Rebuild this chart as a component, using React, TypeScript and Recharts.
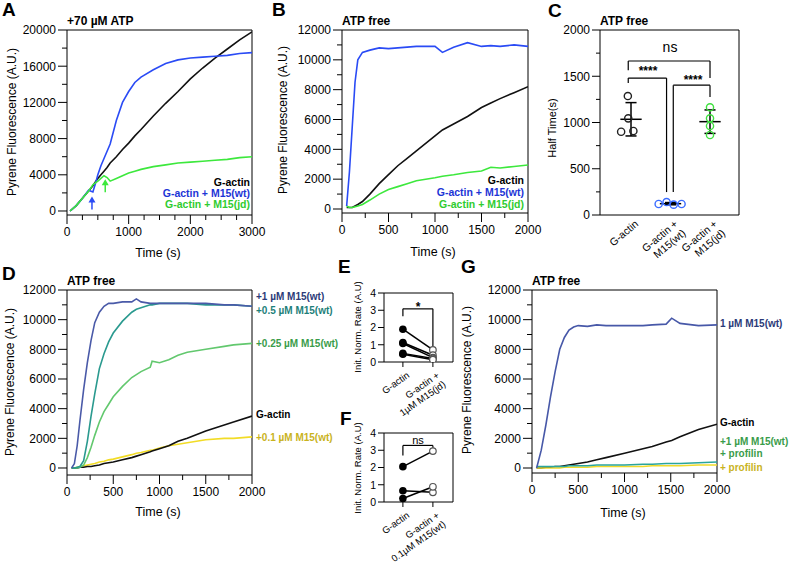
import React from "react";
import {
  LineChart,
  Line,
  XAxis,
  YAxis,
  ReferenceLine,
  ReferenceDot,
  ScatterChart,
  Scatter,
} from "recharts";

const FONT = '"Liberation Sans", Arial, Helvetica, sans-serif';

// A: +70 µM ATP
const aTime = [50, 150, 250, 350, 420, 460, 500, 550, 600, 650, 700, 800, 900, 1000, 1100, 1200, 1400, 1600, 1800, 2000, 2200, 2400, 2600, 2800, 3000];
const aGActin = [0, 600, 1400, 2200, 2800, 3200, 3600, 4000, 4400, 4800, 5300, 6000, 6800, 7500, 8300, 9000, 10500, 11900, 13200, 14600, 15800, 16900, 17900, 18900, 19800];
const aWt = [0, 600, 1400, 2300, 2100, 3000, 4000, 5000, 5800, 6600, 7400, 10000, 12000, 13200, 14200, 14800, 15600, 16300, 16700, 16900, 17000, 17100, 17200, 17400, 17500];
const aJd = [0, 600, 1400, 2200, 2900, 3100, 3300, 3600, 3900, 3700, 3300, 3600, 3900, 4200, 4400, 4600, 4900, 5100, 5300, 5400, 5500, 5600, 5700, 5900, 6000];
const aArrows = [
  { t: 405, v: 1500, color: "#2a4bf5" },
  { t: 620, v: 3400, color: "#3de83d" },
];

// B: ATP free
const bTime = [50, 80, 110, 140, 170, 220, 300, 400, 500, 600, 700, 800, 900, 1000, 1080, 1200, 1350, 1500, 1600, 1700, 1850, 2000];
const bWt = [200, 2500, 5500, 8500, 10000, 10500, 10650, 10800, 10750, 10800, 10850, 10900, 10900, 10900, 10500, 10850, 11150, 10900, 10950, 10900, 11000, 10900];
const bGActin = [100, 100, 100, 200, 300, 500, 1000, 1700, 2300, 2900, 3400, 3900, 4400, 4900, 5300, 5700, 6200, 6800, 7100, 7400, 7800, 8200];
const bJd = [200, 100, 100, 150, 200, 300, 600, 1000, 1300, 1500, 1700, 1900, 2000, 2100, 2200, 2300, 2450, 2550, 2800, 2750, 2850, 2950];

// C: half times
const cCats = ["G-actin", "G-actin +\nM15(wt)", "G-actin +\nM15(jd)"];
const cGActin = [1286, 1045, 900, 908];
const cGActinX = [0.92, 0.93, 0.75, 1.06];
const cWt = [119, 140, 112, 119];
const cWtX = [1.7, 1.9, 2.08, 2.28];
const cJd = [1164, 1045, 962, 865];
const cJdX = [3, 3, 3, 3];
const cBrackets = [
  { x1: 0.93, x2: 3.0, y: 1665, yl: 1566, yr: 1480 },
  { x1: 0.93, x2: 1.9, y: 1480, yl: 1426, yr: 248 },
  { x1: 2.07, x2: 3.0, y: 1404, yl: 248, yr: 1275 },
];

// D: dose series
const dTime = [50, 80, 110, 140, 180, 220, 260, 300, 350, 400, 450, 500, 600, 700, 750, 800, 900, 920, 1000, 1100, 1200, 1300, 1500, 1700, 1800, 2000];
const d1 = [0, 300, 1500, 3200, 5300, 7100, 8600, 9800, 10500, 10900, 11100, 11100, 11200, 11200, 11400, 11200, 11100, 11100, 11100, 11100, 11100, 11100, 11100, 11000, 11000, 10900];
const d05 = [0, 0, 50, 100, 500, 1800, 3500, 5000, 6700, 7700, 8500, 9100, 9900, 10500, 10700, 10800, 11000, 11000, 11100, 11100, 11100, 11100, 11000, 11000, 11000, 10900];
const d025 = [0, 0, 0, 50, 200, 700, 1400, 2200, 3100, 3800, 4300, 4800, 5500, 6100, 6300, 6500, 6800, 7200, 7100, 7300, 7600, 7800, 8000, 8200, 8300, 8400];
const dGActin = [0, 0, 0, 50, 50, 100, 100, 150, 200, 300, 350, 400, 550, 700, 800, 900, 1100, 1150, 1300, 1500, 1800, 2000, 2500, 2900, 3100, 3500];
const d01 = [0, 0, 50, 100, 150, 200, 250, 300, 400, 450, 550, 600, 750, 900, 1000, 1050, 1200, 1200, 1350, 1500, 1600, 1700, 1900, 2000, 2000, 2100];

// E / F: paired initial rates
const eCats = ["G-actin", "G-actin +\n1µM M15(jd)"];
const eGActin = [1.9, 1.13, 1.07, 0.5, 0.45];
const eJd = [0.7, 0.39, 0.25, 0.2, 0.13];
const fCats = ["G-actin", "G-actin +\n0.1µM M15(wt)"];
const fGActin = [2.05, 0.65, 0.2];
const fWt = [2.95, 0.56, 0.88];

// G: profilin
const gTime = [50, 100, 150, 200, 250, 300, 350, 400, 450, 500, 600, 700, 800, 1000, 1200, 1300, 1450, 1510, 1600, 1800, 2000];
const g1 = [0, 1200, 2900, 4800, 6500, 8000, 8800, 9300, 9500, 9600, 9550, 9650, 9600, 9600, 9600, 9650, 9700, 10100, 9750, 9600, 9650];
const gGActin = [0, 0, 50, 50, 100, 100, 150, 200, 250, 300, 400, 550, 700, 1000, 1300, 1450, 1750, 1850, 2100, 2600, 2950];
const gProf1 = [100, 100, 100, 100, 100, 100, 100, 150, 150, 150, 150, 200, 200, 200, 250, 250, 300, 300, 300, 350, 400];
const gProf = [0, 0, 0, 0, 0, 0, 50, 50, 50, 50, 50, 100, 100, 100, 100, 150, 150, 150, 150, 200, 200];

const ticks3000 = [0, 250, 500, 750, 1000, 1250, 1500, 1750, 2000, 2250, 2500, 2750, 3000];
const ticks2000 = [0, 250, 500, 750, 1000, 1250, 1500, 1750, 2000];
const yTicks20000 = [0, 2000, 4000, 6000, 8000, 10000, 12000, 14000, 16000, 18000, 20000];
const yTicks12000 = [0, 1000, 2000, 3000, 4000, 5000, 6000, 7000, 8000, 9000, 10000, 11000, 12000];

const yTick = (axisX: number, isMajor: (v: number) => boolean, size = 12, majorLen = 9, minorLen = 5) =>
  (props: any) => {
    const { y, payload } = props;
    const v = payload.value;
    const major = isMajor(v);
    return (
      <g>
        <line x1={axisX} x2={axisX - (major ? majorLen : minorLen)} y1={y} y2={y} stroke="#000" />
        {major && (
          <text x={axisX - majorLen - 2} y={y} dy="0.36em" textAnchor="end" fontSize={size} fontFamily={FONT} fill="#000">
            {v}
          </text>
        )}
      </g>
    );
  };

const xTick = (axisY: number, isMajor: (v: number) => boolean, size = 12, majorLen = 9, minorLen = 5) =>
  (props: any) => {
    const { x, payload } = props;
    const v = payload.value;
    const major = isMajor(v);
    return (
      <g>
        <line x1={x} x2={x} y1={axisY} y2={axisY + (major ? majorLen : minorLen)} stroke="#000" />
        {major && (
          <text x={x} y={axisY + majorLen + 2} dy="0.8em" textAnchor="middle" fontSize={size} fontFamily={FONT} fill="#000">
            {v}
          </text>
        )}
      </g>
    );
  };

const catTick = (axisY: number, cats: string[], size: number, angle: number, tickLen: number) =>
  (props: any) => {
    const { x, payload } = props;
    const lines = cats[payload.value - 1].split("\n");
    return (
      <g>
        {tickLen > 0 && <line x1={x} x2={x} y1={axisY} y2={axisY + tickLen} stroke="#000" />}
        <g transform={`translate(${x + 3},${axisY + tickLen + 4}) rotate(${-angle})`}>
          <text textAnchor="end" fontSize={size} fontFamily={FONT} fill="#000">
            {lines.map((l, i) => (
              <tspan key={i} x={0} y={size * 0.75 + i * size * 1.15}>
                {l}
              </tspan>
            ))}
          </text>
        </g>
      </g>
    );
  };

function T(p: {
  x: number;
  y: number;
  children: React.ReactNode;
  size?: number;
  bold?: boolean;
  color?: string;
  align?: "left" | "right" | "center";
  rotate?: boolean;
}) {
  const { x, y, children, size = 12, bold = false, color = "#000", align = "left", rotate = false } = p;
  const tx = align === "left" ? "0" : align === "right" ? "-100%" : "-50%";
  return (
    <div
      style={{
        position: "absolute",
        left: x,
        top: y,
        fontFamily: FONT,
        fontSize: size,
        fontWeight: bold ? 700 : 400,
        color,
        whiteSpace: "nowrap",
        lineHeight: 1,
        transform: rotate ? "translate(-50%,-50%) rotate(-90deg)" : `translate(${tx},-50%)`,
      }}
    >
      {children}
    </div>
  );
}

type Series = { values: number[]; color: string };

function Kinetics(p: {
  left: number;
  top: number;
  plotW: number;
  plotH: number;
  time: number[];
  series: Series[];
  xMax: number;
  yMin: number;
  yMax: number;
  xTicks: number[];
  yTicks: number[];
  xMajor: number;
  yMajor: number;
  children?: React.ReactNode;
}) {
  const YW = 70, MT = 8, MR = 22, XH = 45;
  const CW = YW + p.plotW + MR;
  const CH = MT + p.plotH + XH;
  const rows = p.time.map((t, i) => {
    const r: any = { t };
    p.series.forEach((s, k) => (r["s" + k] = s.values[i]));
    return r;
  });
  return (
    <div style={{ position: "absolute", left: p.left - YW, top: p.top - MT }}>
      <LineChart width={CW} height={CH} data={rows} margin={{ top: MT, right: MR, bottom: 0, left: 0 }}>
        <XAxis
          type="number"
          dataKey="t"
          domain={[0, p.xMax]}
          ticks={p.xTicks}
          interval={0}
          allowDataOverflow
          tickLine={false}
          stroke="#000"
          height={XH}
          tick={xTick(MT + p.plotH, (v) => v % p.xMajor === 0)}
        />
        <YAxis
          type="number"
          domain={[p.yMin, p.yMax]}
          ticks={p.yTicks}
          interval={0}
          allowDataOverflow
          tickLine={false}
          stroke="#000"
          width={YW}
          tick={yTick(YW, (v) => v % p.yMajor === 0)}
        />
        <ReferenceLine x={p.xMax} stroke="#000" />
        <ReferenceLine y={p.yMax} stroke="#000" />
        {p.series.map((s, k) => (
          <Line
            key={k}
            type="linear"
            dataKey={"s" + k}
            stroke={s.color}
            strokeWidth={1.6}
            dot={false}
            isAnimationActive={false}
          />
        ))}
        {p.children}
      </LineChart>
    </div>
  );
}

const Arrow = (color: string) => (props: any) => {
  const { cx, cy } = props;
  return (
    <g>
      <line x1={cx} x2={cx} y1={cy + 12} y2={cy + 3} stroke={color} strokeWidth={1.5} />
      <path d={`M${cx - 3.5},${cy + 5} L${cx},${cy - 1} L${cx + 3.5},${cy + 5} Z`} fill={color} />
    </g>
  );
};

function HalfTime() {
  const left = 600, top = 30, plotW = 139, plotH = 185;
  const YW = 50, MT = 8, MR = 10, XH = 70;
  const xDom: [number, number] = [0.215, 3.734];
  const groups = [
    { x: cGActinX, y: cGActin, color: "#222222", c: 1 },
    { x: cWtX, y: cWt, color: "#3a6cff", c: 2 },
    { x: cJdX, y: cJd, color: "#3ee03e", c: 3 },
  ];
  const stats = groups.map((g) => {
    const n = g.y.length;
    const m = g.y.reduce((a, b) => a + b, 0) / n;
    const sd = Math.sqrt(g.y.reduce((a, b) => a + (b - m) * (b - m), 0) / (n - 1));
    return { c: g.c, m, sd };
  });
  const circle = (color: string) => (props: any) =>
    <circle cx={props.cx} cy={props.cy} r={3.6} fill="none" stroke={color} strokeWidth={1.4} />;
  return (
    <div style={{ position: "absolute", left: left - YW, top: top - MT }}>
      <ScatterChart width={YW + plotW + MR} height={MT + plotH + XH} margin={{ top: MT, right: MR, bottom: 0, left: 0 }}>
        <XAxis
          type="number"
          dataKey="x"
          domain={xDom}
          ticks={[1, 2, 3]}
          interval={0}
          allowDataOverflow
          tickLine={false}
          stroke="#000"
          height={XH}
          tick={catTick(MT + plotH, cCats, 10.5, 40, 0)}
        />
        <YAxis
          type="number"
          dataKey="y"
          domain={[0, 2000]}
          ticks={[0, 250, 500, 750, 1000, 1250, 1500, 1750, 2000]}
          interval={0}
          allowDataOverflow
          tickLine={false}
          stroke="#000"
          width={YW}
          tick={yTick(YW, (v) => v % 500 === 0, 12, 8, 4)}
        />
        <ReferenceLine x={xDom[1]} stroke="#000" />
        <ReferenceLine y={2000} stroke="#000" />
        {cBrackets.flatMap((b, i) => [
          <ReferenceLine key={"h" + i} segment={[{ x: b.x1, y: b.y }, { x: b.x2, y: b.y }]} stroke="#000" strokeWidth={1.2} />,
          <ReferenceLine key={"l" + i} segment={[{ x: b.x1, y: b.y }, { x: b.x1, y: b.yl }]} stroke="#000" strokeWidth={1.2} />,
          <ReferenceLine key={"r" + i} segment={[{ x: b.x2, y: b.y }, { x: b.x2, y: b.yr }]} stroke="#000" strokeWidth={1.2} />,
        ])}
        {stats.flatMap((s, i) => [
          <ReferenceLine key={"m" + i} segment={[{ x: s.c - 0.27, y: s.m }, { x: s.c + 0.27, y: s.m }]} stroke="#000" strokeWidth={1.5} />,
          <ReferenceLine key={"v" + i} segment={[{ x: s.c, y: s.m - s.sd }, { x: s.c, y: s.m + s.sd }]} stroke="#000" strokeWidth={1.5} />,
          <ReferenceLine key={"t" + i} segment={[{ x: s.c - 0.14, y: s.m + s.sd }, { x: s.c + 0.14, y: s.m + s.sd }]} stroke="#000" strokeWidth={1.5} />,
          <ReferenceLine key={"b" + i} segment={[{ x: s.c - 0.14, y: s.m - s.sd }, { x: s.c + 0.14, y: s.m - s.sd }]} stroke="#000" strokeWidth={1.5} />,
        ])}
        {groups.map((g, i) => (
          <Scatter
            key={i}
            data={g.y.map((v, k) => ({ x: g.x[k], y: v }))}
            shape={circle(g.color)}
            isAnimationActive={false}
          />
        ))}
      </ScatterChart>
    </div>
  );
}

function Paired(p: { left: number; top: number; before: number[]; after: number[]; cats: string[]; bracket: { y: number; yl: number; yr: number } }) {
  const plotW = 69, plotH = 69;
  const YW = 24, MT = 8, MR = 10, XH = 80;
  const xDom: [number, number] = [0.37, 2.67];
  const shape = (props: any) =>
    props.payload.x === 1 ? (
      <circle cx={props.cx} cy={props.cy} r={3.8} fill="#000" />
    ) : (
      <circle cx={props.cx} cy={props.cy} r={3.3} fill="#fff" stroke="#555" strokeWidth={1.2} />
    );
  const b = p.bracket;
  return (
    <div style={{ position: "absolute", left: p.left - YW, top: p.top - MT }}>
      <ScatterChart width={YW + plotW + MR} height={MT + plotH + XH} margin={{ top: MT, right: MR, bottom: 0, left: 0 }}>
        <XAxis
          type="number"
          dataKey="x"
          domain={xDom}
          ticks={[1, 2]}
          interval={0}
          allowDataOverflow
          tickLine={false}
          stroke="#000"
          height={XH}
          tick={catTick(MT + plotH, p.cats, 9.5, 35, 5)}
        />
        <YAxis
          type="number"
          dataKey="y"
          domain={[0, 4]}
          ticks={[0, 1, 2, 3, 4]}
          interval={0}
          allowDataOverflow
          tickLine={false}
          stroke="#000"
          width={YW}
          tick={yTick(YW, () => true, 10.5, 6, 6)}
        />
        <ReferenceLine x={xDom[1]} stroke="#000" />
        <ReferenceLine y={4} stroke="#000" />
        <ReferenceLine segment={[{ x: 1, y: b.y }, { x: 2, y: b.y }]} stroke="#000" strokeWidth={1.2} />
        <ReferenceLine segment={[{ x: 1, y: b.y }, { x: 1, y: b.yl }]} stroke="#000" strokeWidth={1.2} />
        <ReferenceLine segment={[{ x: 2, y: b.y }, { x: 2, y: b.yr }]} stroke="#000" strokeWidth={1.2} />
        {p.before.map((v, i) => (
          <Scatter
            key={i}
            data={[{ x: 1, y: v }, { x: 2, y: p.after[i] }]}
            line={{ stroke: "#000", strokeWidth: 1.5 }}
            shape={shape}
            isAnimationActive={false}
          />
        ))}
      </ScatterChart>
    </div>
  );
}

export default function App() {
  return (
    <div style={{ position: "absolute", left: 0, top: 0, width: 790, height: 570, background: "#fff", overflow: "hidden" }}>
      {/* A */}
      <Kinetics
        left={67}
        top={30}
        plotW={185}
        plotH={185}
        time={aTime}
        series={[
          { values: aGActin, color: "#111111" },
          { values: aWt, color: "#2a4bf5" },
          { values: aJd, color: "#3de83d" },
        ]}
        xMax={3000}
        yMin={-442}
        yMax={20000}
        xTicks={ticks3000}
        yTicks={yTicks20000}
        xMajor={1000}
        yMajor={4000}
      >
        {aArrows.map((a, i) => (
          <ReferenceDot key={i} x={a.t} y={a.v} r={0} shape={Arrow(a.color)} />
        ))}
      </Kinetics>
      {/* B */}
      <Kinetics
        left={342}
        top={30}
        plotW={186}
        plotH={183}
        time={bTime}
        series={[
          { values: bGActin, color: "#111111" },
          { values: bJd, color: "#3de83d" },
          { values: bWt, color: "#2a4bf5" },
        ]}
        xMax={2000}
        yMin={-268}
        yMax={12000}
        xTicks={ticks2000}
        yTicks={yTicks12000}
        xMajor={500}
        yMajor={2000}
      />
      <HalfTime />
      {/* D */}
      <Kinetics
        left={67}
        top={290}
        plotW={185}
        plotH={185}
        time={dTime}
        series={[
          { values: d01, color: "#f2dc26" },
          { values: dGActin, color: "#111111" },
          { values: d025, color: "#62c86e" },
          { values: d05, color: "#2a9a8f" },
          { values: d1, color: "#4a5aa8" },
        ]}
        xMax={2000}
        yMin={-472}
        yMax={12000}
        xTicks={ticks2000}
        yTicks={yTicks12000}
        xMajor={500}
        yMajor={2000}
      />
      <Paired left={384} top={293} before={eGActin} after={eJd} cats={eCats} bracket={{ y: 3.08, yl: 2.65, yr: 0.92 }} />
      <Paired left={384} top={433} before={fGActin} after={fWt} cats={fCats} bracket={{ y: 3.28, yl: 2.7, yr: 3.05 }} />
      {/* G */}
      <Kinetics
        left={532}
        top={290}
        plotW={185}
        plotH={183}
        time={gTime}
        series={[
          { values: gGActin, color: "#111111" },
          { values: gProf, color: "#f0da2a" },
          { values: gProf1, color: "#2aa59c" },
          { values: g1, color: "#4758a8" },
        ]}
        xMax={2000}
        yMin={-337}
        yMax={12000}
        xTicks={ticks2000}
        yTicks={yTicks12000}
        xMajor={500}
        yMajor={2000}
      />

      {/* panel letters */}
      <T x={2} y={9} size={19} bold>A</T>
      <T x={272} y={9} size={19} bold>B</T>
      <T x={548} y={10} size={19} bold>C</T>
      <T x={2} y={273} size={19} bold>D</T>
      <T x={338} y={266} size={19} bold>E</T>
      <T x={340} y={418} size={19} bold>F</T>
      <T x={461} y={266} size={19} bold>G</T>

      {/* titles */}
      <T x={67} y={21} bold>+70 µM ATP</T>
      <T x={342} y={21} bold>ATP free</T>
      <T x={600} y={21} bold>ATP free</T>
      <T x={67} y={281} bold>ATP free</T>
      <T x={532} y={281} bold>ATP free</T>

      {/* axis titles */}
      <T x={12} y={122} rotate>Pyrene Fluorescence (A.U.)</T>
      <T x={283} y={120} rotate>Pyrene Fluorescence (A.U.)</T>
      <T x={552} y={128} size={11} rotate>Half Time(s)</T>
      <T x={10} y={382} rotate>Pyrene Fluorescence (A.U.)</T>
      <T x={467} y={380} rotate>Pyrene Fluorescence (A.U.)</T>
      <T x={358} y={327} size={9.5} rotate>Init. Norm. Rate (A.U)</T>
      <T x={358} y={468} size={9.5} rotate>Init. Norm. Rate (A.U)</T>
      <T x={158} y={253} size={12.5} align="center">Time (s)</T>
      <T x={433} y={252} size={12.5} align="center">Time (s)</T>
      <T x={158} y={512} size={12.5} align="center">Time (s)</T>
      <T x={623} y={513} size={12.5} align="center">Time (s)</T>

      {/* A legend */}
      <T x={250} y={182} size={10.5} bold align="right">G-actin</T>
      <T x={250} y={193} size={10.5} bold align="right" color="#1d35d6">G-actin + M15(wt)</T>
      <T x={250} y={204} size={10.5} bold align="right" color="#2fcc2f">G-actin + M15(jd)</T>
      {/* B legend */}
      <T x={524} y={180} size={10.5} bold align="right">G-actin</T>
      <T x={524} y={192} size={10.5} bold align="right" color="#1d35d6">G-actin + M15(wt)</T>
      <T x={524} y={204} size={10.5} bold align="right" color="#2fcc2f">G-actin + M15(jd)</T>

      {/* C annotations */}
      <T x={670} y={47} size={14} align="center">ns</T>
      <T x={648} y={71} size={12} bold align="center">****</T>
      <T x={693} y={80} size={12} bold align="center">****</T>

      {/* D labels */}
      <T x={256} y={297} size={10} bold color="#2c3a78">+1 µM M15(wt)</T>
      <T x={256} y={311} size={10} bold color="#1e7f7a">+0.5 µM M15(wt)</T>
      <T x={256} y={344} size={10} bold color="#3a9c4a">+0.25 µM M15(wt)</T>
      <T x={256} y={415} size={10} bold>G-actin</T>
      <T x={256} y={438} size={10} bold color="#c9b31d">+0.1 µM M15(wt)</T>

      {/* E / F annotations */}
      <T x={418} y={307} size={12} bold align="center">*</T>
      <T x={418} y={440} size={11} align="center">ns</T>

      {/* G labels */}
      <T x={720} y={324} size={10} bold color="#2c3a78">1 µM M15(wt)</T>
      <T x={720} y={423} size={10} bold>G-actin</T>
      <T x={720} y={442} size={10} bold color="#3a9c4a">+1 µM M15(wt)</T>
      <T x={720} y={454} size={10} bold color="#3a9c4a">+ profilin</T>
      <T x={720} y={468} size={10} bold color="#c9b31d">+ profilin</T>
    </div>
  );
}
